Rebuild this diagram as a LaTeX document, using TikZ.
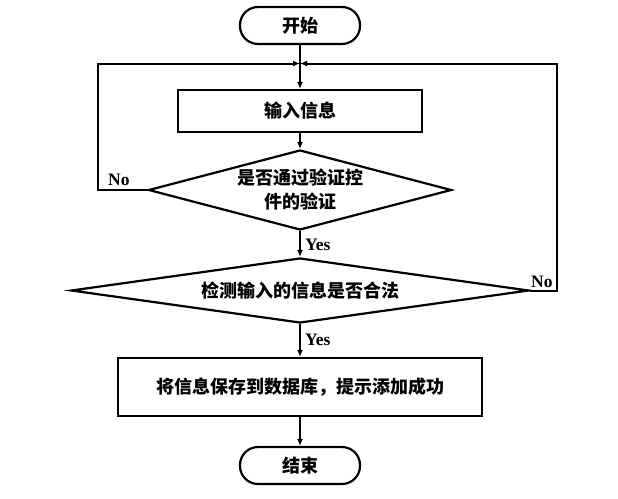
\documentclass[tikz,border=0pt]{standalone}
\usepackage{fontspec}
\setmainfont{Noto Sans CJK SC}
\newfontfamily\latfont{Liberation Serif}
\usetikzlibrary{shapes.geometric,arrows.meta}
\tikzset{
  base/.style={draw=black, line width=2.2pt, font=\fontsize{18}{24}\selectfont\bfseries, inner sep=0pt},
  term/.style={base, minimum width=120pt, minimum height=37pt, rounded corners=18pt},
  procbox/.style={base, rectangle},
  decide/.style={base, diamond, align=center},
  conn/.style={line width=2pt, -{Latex[length=7pt,width=6pt]}},
  line/.style={line width=2pt},
  lab/.style={font=\latfont\fontsize{17.5}{19}\selectfont\bfseries, inner sep=0pt}
}
\begin{document}
\begin{tikzpicture}[x=1pt,y=-1pt]
\useasboundingbox (0,0) rectangle (618,498);
\node[term] (start) at (300,25.5) {开始};
\node[procbox, minimum width=244pt, minimum height=42pt] (input) at (300,111) {输入信息};
\node[decide, aspect=3.79, minimum width=303pt, minimum height=80pt] (d1) at (300,190) {是否通过验证控\\件的验证};
\node[decide, aspect=7.05, minimum width=458pt, minimum height=65pt] (d2) at (300,290.5) {检测输入的信息是否合法};
\node[procbox, minimum width=364pt, minimum height=58pt] (save) at (300,387) {将信息保存到数据库，提示添加成功};
\node[term] (end) at (300,465.5) {结束};
\coordinate (j) at (300,63.5);
\coordinate (lt) at (98,63.5);
\coordinate (lb) at (98,190);
\coordinate (rt) at (557,63.5);
\coordinate (rb) at (557,290.5);
\draw[line] (start.south) -- (j);
\draw[conn] (j) -- (input.north);
\draw[conn] (input.south) -- (d1.north);
\draw[conn] (d1.south) -- (d2.north);
\draw[conn] (d2.south) -- (save.north);
\draw[conn] (save.south) -- (end.north);
\draw[conn] (d1.west) -- (lb) -- (lt) -- (j);
\draw[conn] (d2.east) -- (rb) -- (rt) -- (j);
\node[lab, anchor=west] (no1) at (108,180) {No};
\node[lab, anchor=west] (no2) at (531,282) {No};
\node[lab, anchor=west] (yes1) at (305,245) {Yes};
\node[lab, anchor=west] (yes2) at (305,340) {Yes};
\end{tikzpicture}
\end{document}
